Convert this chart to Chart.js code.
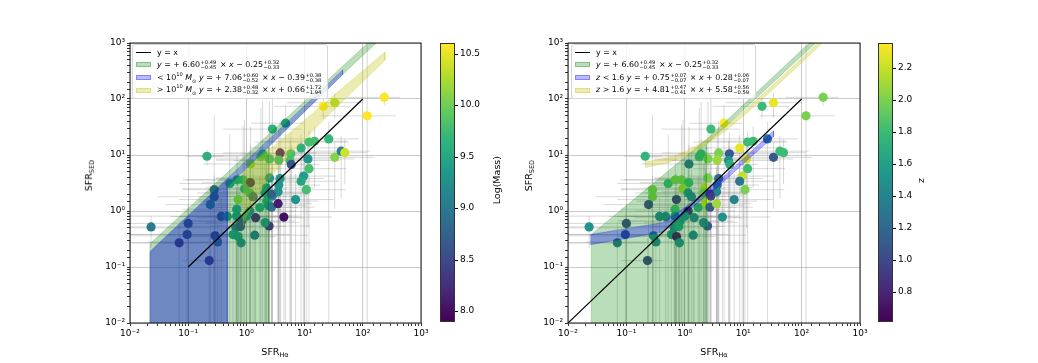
<!DOCTYPE html>
<html><head><meta charset="utf-8">
<script src="https://cdn.jsdelivr.net/npm/chart.js@4.4.1/dist/chart.umd.min.js"></script>
<style>
body{margin:0;background:#fff;width:1038px;height:363px;overflow:hidden;position:relative;font-family:"DejaVu Sans",sans-serif;color:#000;}
canvas{position:absolute;left:0;top:0;}
.leg{position:absolute;background:rgba(255,255,255,0.82);border:1px solid #d6d6d6;border-radius:3px;font-size:7.9px;padding:1px 5px 2px 3px;white-space:nowrap;}
.row{display:flex;align-items:center;height:12.6px;}
.h{width:15px;height:5px;margin-right:6px;flex:none;box-sizing:border-box;}
.ln{height:0;border-top:1.3px solid #000;}
.ss{display:inline-flex;flex-direction:column;font-size:5.2px;line-height:4.8px;vertical-align:middle;margin:0 1px 0 0.5px;}
.t sup,.t sub{font-size:5.2px;line-height:0;}
.ax{position:absolute;font-size:9.5px;white-space:nowrap;}
.ax sub{font-size:6.5px;vertical-align:-2px;}
.vt{position:absolute;font-size:9.5px;white-space:nowrap;writing-mode:vertical-rl;transform:rotate(180deg);}
.vt sub{font-size:6.5px;}
.cb{position:absolute;border:0.8px solid #333;box-sizing:border-box;}
.ct{position:absolute;font-size:9px;}
.tm{position:absolute;width:3px;height:0;border-top:0.8px solid #000;}
</style></head>
<body>
<canvas id="c1" width="1038" height="363"></canvas>
<canvas id="c2" width="1038" height="363"></canvas>

<div class="leg" style="left:132px;top:44px;">
 <div class="row"><span class="h ln"></span><span class="t">y = x</span></div>
 <div class="row"><span class="h" style="background:rgba(0,128,0,0.27);border:0.6px solid rgba(0,128,0,0.3)"></span><span class="t"><i>y</i> = + 6.60<span class="ss"><span>+0.49</span><span>−0.45</span></span> × <i>x</i> − 0.25<span class="ss"><span>+0.32</span><span>−0.33</span></span></span></div>
 <div class="row"><span class="h" style="background:rgba(0,0,255,0.27);border:0.6px solid rgba(0,0,255,0.3)"></span><span class="t">&lt; 10<sup>10</sup> <i>M</i><sub>⊙</sub> <i>y</i> = + 7.06<span class="ss"><span>+0.60</span><span>−0.52</span></span> × <i>x</i> − 0.39<span class="ss"><span>+0.38</span><span>−0.38</span></span></span></div>
 <div class="row"><span class="h" style="background:rgba(191,191,0,0.3);border:0.6px solid rgba(191,191,0,0.3)"></span><span class="t">&gt; 10<sup>10</sup> <i>M</i><sub>⊙</sub> <i>y</i> = + 2.38<span class="ss"><span>+0.48</span><span>−0.32</span></span> × <i>x</i> + 0.66<span class="ss"><span>+1.72</span><span>−1.94</span></span></span></div>
</div>

<div class="leg" style="left:571px;top:44px;">
 <div class="row"><span class="h ln"></span><span class="t">y = x</span></div>
 <div class="row"><span class="h" style="background:rgba(0,128,0,0.27);border:0.6px solid rgba(0,128,0,0.3)"></span><span class="t"><i>y</i> = + 6.60<span class="ss"><span>+0.49</span><span>−0.45</span></span> × <i>x</i> − 0.25<span class="ss"><span>+0.32</span><span>−0.33</span></span></span></div>
 <div class="row"><span class="h" style="background:rgba(0,0,255,0.27);border:0.6px solid rgba(0,0,255,0.3)"></span><span class="t"><i>z</i> &lt; 1.6 <i>y</i> = + 0.75<span class="ss"><span>+0.07</span><span>−0.07</span></span> × <i>x</i> + 0.28<span class="ss"><span>+0.06</span><span>−0.07</span></span></span></div>
 <div class="row"><span class="h" style="background:rgba(191,191,0,0.3);border:0.6px solid rgba(191,191,0,0.3)"></span><span class="t"><i>z</i> &gt; 1.6 <i>y</i> = + 4.81<span class="ss"><span>+0.47</span><span>−0.41</span></span> × <i>x</i> + 5.58<span class="ss"><span>+0.56</span><span>−0.59</span></span></span></div>
</div>

<div class="ax" style="left:275px;top:352px;transform:translate(-50%,-50%)">SFR<sub>Hα</sub></div>
<div class="ax" style="left:714px;top:352px;transform:translate(-50%,-50%)">SFR<sub>Hα</sub></div>
<div class="vt" style="left:83px;top:160px;">SFR<sub>SED</sub></div>
<div class="vt" style="left:523px;top:160px;">SFR<sub>SED</sub></div>
<div class="vt" style="left:491px;top:156px;">Log(Mass)</div>
<div class="vt" style="left:915px;top:178px;">z</div>

<script>
// ---- data ----
const sfrHa  = [0.023,0.10,0.096,0.07,0.23,0.29,0.32,0.21,0.28,0.28,0.24,0.37,0.47,0.52,0.69,0.88,1.17,0.93,0.72,1.14,
                1.3,0.68,0.68,0.77,0.66,0.59,0.72,0.81,0.83,1.14,1.39,1.44,1.7,1.77,1.9,1.18,2.5,2.5,2.2,2.1,
                2.25,2.4,2.7,2.8,3.5,4.4,2.45,2.1,3.8,3.6,3.8,3.6,2.8,4.7,5.8,5.6,5.9,7.0,8.7,9.6,
                8.7,10.7,11.9,11.4,11.9,14.8,26,33,42.5,49,21,33,119,234,3.5,2.7,1.0,0.79];
const sfrSed = [0.52,0.60,0.38,0.27,0.13,0.36,0.28,9.5,2.4,1.8,1.3,0.8,0.8,3.1,3.6,3.6,3.2,2.5,1.6,2.1,
                1.8,1.07,0.81,0.66,0.5,0.38,0.35,0.27,0.66,1.0,0.37,0.76,1.15,9.3,10.5,6.9,8.5,3.9,2.6,2.1,
                1.5,1.26,1.17,1.85,1.35,0.78,0.54,0.62,10.9,8.1,3.8,2.9,29,37,10.5,8.0,6.8,1.6,13.4,4.2,
                3.4,2.4,5.7,8.5,17,17.6,19.4,9.1,11.7,11,74,86,50,107,2.2,2.0,0.81,0.53];
const logMass = [9.0,8.5,8.5,8.3,8.3,8.4,8.9,9.6,8.8,8.7,9.1,8.6,9.3,9.5,9.6,9.7,8.1,9.6,10.1,9.7,
                8.7,9.4,9.3,9.3,9.0,9.4,9.3,9.2,8.6,9.2,9.0,8.2,9.5,10.0,9.8,10.2,9.7,9.3,9.3,9.4,
                9.5,9.3,8.9,9.2,8.1,8.0,8.3,9.3,8.1,9.7,9.3,9.3,9.6,9.5,9.8,9.8,8.6,9.3,9.6,9.4,
                9.5,9.8,9.8,9.3,9.8,9.8,9.7,10.1,9.1,10.4,10.6,10.3,10.6,10.6,9.3,8.7,9.3,8.6];
const redshift = [1.5,1.0,1.1,1.3,0.95,1.4,1.4,1.75,2.0,2.0,1.0,1.4,1.4,1.8,2.0,2.0,1.8,2.1,0.9,1.5,
                1.4,1.8,1.5,1.5,1.4,1.5,0.7,1.5,1.5,0.8,1.4,1.4,1.7,1.8,1.8,1.3,2.0,2.0,2.2,2.0,
                2.2,2.2,1.1,1.0,2.1,1.5,1.1,1.4,2.0,2.1,1.2,1.3,1.8,2.35,1.1,1.5,1.7,1.4,2.3,2.2,
                1.3,2.0,1.8,2.25,1.8,1.8,1.3,1.1,1.8,1.8,1.8,2.3,2.0,2.0,1.4,0.9,1.5,1.6];
const errHaLo = [0.03,0.2,0.2,0.06,0.15,0.4,0.3,0.12,0.2,0.25,0.2,0.32,0.4,0.45,0.6,0.8,1.0,0.85,0.65,1.0,
                1.15,0.6,0.8,0.7,0.8,0.7,0.65,1.0,0.75,1.0,1.3,1.3,1.5,1.6,1.7,1.0,2.2,2.2,2.0,1.9,
                2.1,2.2,2.5,2.5,3.2,4.0,2.2,1.9,3.4,3.3,3.5,3.3,2.4,3.5,5,5,5,6,7.5,8.5,
                8,9.5,10.5,10,10.5,13,23,28,38,44,18,28,100,180,3.1,2.4,0.9,0.7];
const errHaHi = [0.1,0.3,0.4,0.15,0.2,0.6,0.5,0.2,0.5,0.6,1.5,2.0,3,1.5,4,6,8,4,5,10,
                6,4,8,6,3,5,2.5,12,3,6,10,8,6,5,8,3,10,8,12,8,
                15,8,12,8,10,25,10,6,12,10,18,15,6,5,30,35,12,25,35,25,
                30,40,40,60,45,40,60,120,90,70,40,70,250,200,10,9,5,4];
const errSed = [0.3,0.7,0.5,0.35,0.2,0.5,0.3,3,50,2.5,1.5,0.9,2,20,6,30,12,40,3,6,
                10,1.5,1.2,2,0.8,0.6,0.5,0.4,1,3,0.6,2,3,60,80,25,80,10,8,5,
                4,3,4,5,3,1.2,1,1.5,30,20,8,6,100,40,15,10,8,3,10,5,
                5,3,6,8,10,15,20,8,10,8,30,40,900,30,4,5,1.5,0.8];
const xTickLabels = ['10⁻²','10⁻¹','10⁰','10¹','10²','10³'];
const yTickLabels = ['10⁻²','10⁻¹','10⁰','10¹','10²','10³'];
const massTicks = [8.0,8.5,9.0,9.5,10.0,10.5];
const zTicks = [0.8,1.0,1.2,1.4,1.6,1.8,2.0,2.2];
const massRange = [7.893,10.607];
const zRange = [0.61,2.356];
// fit bands (x, y) outlines
const greenBandL = [[0.022,1e-5],[0.022,0.26],[122,1000],[170,1000],[45,275],[2.4,14],[2.4,1e-5]];
const blueBandL  = [[0.022,1e-5],[0.022,0.19],[45,330],[45,270],[0.47,2.7],[0.47,1e-5]];
const blueCoreL  = [[0.022,1e-5],[0.022,0.19],[0.47,3.8],[0.47,1e-5]];
const yellowBandL= [[0.88,0.53],[0.88,4.9],[240,690],[240,493],[20,40],[5,9.0],[2.4,3.66],[1.5,1.81],[1,0.78]];
const greenBandR = [[0.025,1e-5],[0.025,0.38],[2.34,18.9],[135,1000],[174,1000],[2.34,15.5],[2.34,1e-5]];
const blueBandR  = [[0.024,0.38],[0.42,0.62],[1,1.15],[4,3.6],[10,8.5],[33,27],[33,21],[10,7.0],[4,2.9],[1,0.92],[0.42,0.42],[0.024,0.25]];
const yellowBandR= [[0.21,7.5],[0.5,8.8],[1,11.4],[2,16.7],[5,33],[10,59],[30,165],[100,534],[250,1330],
                    [250,1105],[100,445],[30,137],[10,49],[5,27],[2,13.8],[1,9.4],[0.5,7.2],[0.21,6.0]];
const oneToOneL = [[0.1,0.1],[100,100]];
const oneToOneR = [[0.01,0.01],[100,100]];

// ---- viridis colormap ----
const VIR = [[68,1,84],[72,40,120],[62,74,137],[49,104,142],[38,130,142],[31,158,137],[53,183,121],[110,206,88],[181,222,43],[253,231,37]];
function viridis(t){
  t=Math.min(1,Math.max(0,t)); const p=t*(VIR.length-1); const i=Math.min(VIR.length-2,Math.floor(p)); const f=p-i;
  const c=VIR[i].map((v,k)=>Math.round(v+(VIR[i+1][k]-v)*f)); return `rgb(${c[0]},${c[1]},${c[2]})`;
}
const grad = 'linear-gradient(to top,'+VIR.map((c,i)=>`rgb(${c}) ${(i/(VIR.length-1)*100).toFixed(1)}%`).join(',')+')';

function addColorbar(left, ticks, range){
  const top=43, h=279;
  const bar=document.createElement('div'); bar.className='cb';
  Object.assign(bar.style,{left:left+'px',top:top+'px',width:'15px',height:h+'px',background:grad});
  document.body.appendChild(bar);
  ticks.forEach(v=>{
    const y=top+h-(v-range[0])/(range[1]-range[0])*h;
    const m=document.createElement('div'); m.className='tm'; Object.assign(m.style,{left:(left+15)+'px',top:y+'px'}); document.body.appendChild(m);
    const t=document.createElement('div'); t.className='ct'; t.textContent=v.toFixed(1);
    Object.assign(t.style,{left:(left+20)+'px',top:(y-6)+'px'}); document.body.appendChild(t);
  });
}
addColorbar(440, massTicks, massRange);
addColorbar(878, zTicks, zRange);

const pts = a=>a.map(p=>({x:p[0],y:p[1]}));
function errSegs(){
  const d=[];
  for(let i=0;i<sfrHa.length;i++){
    const x=sfrHa[i], y=sfrSed[i];
    d.push({x:Math.max(x-errHaLo[i],1e-5),y},{x:x+errHaHi[i],y},{x,y:null},
           {x,y:Math.max(y-errSed[i],1e-5)},{x,y:y+errSed[i]},{x,y:null});
  }
  return d;
}
function isMajor(v){ const e=Math.log10(v); return Math.abs(e-Math.round(e))<1e-6; }
function tickLabel(labels){ return v=>{ if(!isMajor(v)) return ''; const e=Math.round(Math.log10(v)); return labels[e+2]||''; }; }

const frame={id:'frame',afterDraw(ch){const {ctx,chartArea:a}=ch;ctx.save();ctx.strokeStyle='#000';ctx.lineWidth=0.9;ctx.strokeRect(a.left,a.top,a.right-a.left,a.bottom-a.top);ctx.restore();}};

function poly(data,color,order,edge){
  return {type:'line',data:pts(data),showLine:true,fill:'shape',backgroundColor:color,borderColor:edge||'rgba(0,0,0,0)',borderWidth:edge?0.8:0,pointRadius:0,order};
}

function makeChart(id, padLeft, padRight, colors, bands, oneToOne){
  const axisBase = (labels)=>({
    type:'logarithmic',min:0.01,max:1000,
    border:{display:false},
    grid:{color:c=>(c.tick&&isMajor(c.tick.value))?'rgba(176,176,176,0.85)':'rgba(0,0,0,0)',lineWidth:0.8,tickColor:'#000',tickLength:3,drawTicks:true},
    ticks:{autoSkip:false,maxRotation:0,minRotation:0,color:'#000',font:{family:'DejaVu Sans',size:9},padding:2,callback:tickLabel(labels)}
  });
  const xs=axisBase(xTickLabels); xs.afterFit=s=>{s.height=40;};
  const ys=axisBase(yTickLabels); ys.afterFit=s=>{s.width=130;};
  new Chart(document.getElementById(id),{
    type:'line',
    data:{datasets:[
      {type:'line',data:errSegs(),showLine:true,spanGaps:false,borderColor:'rgba(128,128,128,0.3)',borderWidth:1,pointRadius:0,fill:false,order:20},
      {type:'line',data:sfrHa.map((x,i)=>({x,y:sfrSed[i]})),showLine:false,pointRadius:4.6,pointBackgroundColor:colors,pointBorderWidth:0,order:15},
      ...bands,
      {type:'line',data:pts(oneToOne),showLine:true,borderColor:'#000',borderWidth:1.2,pointRadius:0,fill:false,order:0}
    ]},
    options:{
      responsive:false,animation:false,devicePixelRatio:1,
      layout:{padding:{left:padLeft,right:padRight,top:43,bottom:0}},
      plugins:{legend:{display:false},tooltip:{enabled:false}},
      scales:{x:xs,y:ys}
    },
    plugins:[frame]
  });
}

const massColors = logMass.map(m=>viridis((m-massRange[0])/(massRange[1]-massRange[0])));
const zColors = redshift.map(z=>viridis((z-zRange[0])/(zRange[1]-zRange[0])));

makeChart('c1',0,1038-421,massColors,[
  poly(greenBandL,'rgba(0,128,0,0.27)',8,'rgba(0,128,0,0.25)'),
  poly(blueBandL,'rgba(0,0,255,0.27)',7,'rgba(0,0,255,0.25)'),
  poly(blueCoreL,'rgba(40,70,160,0.28)',6),
  poly(yellowBandL,'rgba(191,191,0,0.3)',5,'rgba(191,191,0,0.3)')
],oneToOneL);

makeChart('c2',438,1038-860,zColors,[
  poly(greenBandR,'rgba(0,128,0,0.27)',8,'rgba(0,128,0,0.25)'),
  poly(blueBandR,'rgba(0,0,255,0.3)',7,'rgba(0,0,255,0.3)'),
  poly(yellowBandR,'rgba(191,191,0,0.3)',5,'rgba(191,191,0,0.3)')
],oneToOneR);
</script>
</body></html>
